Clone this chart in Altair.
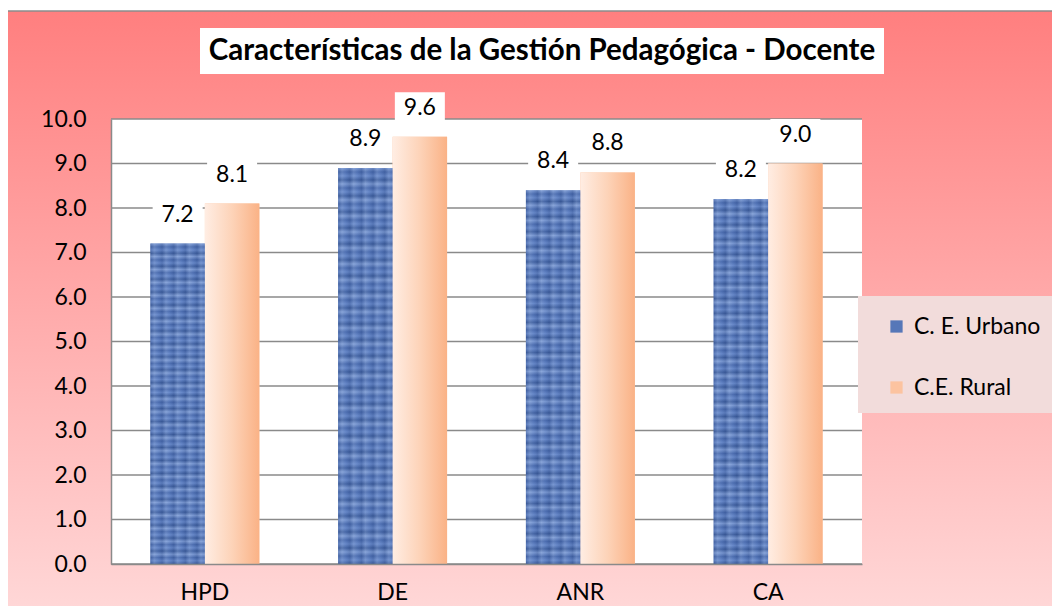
import altair as alt
import pandas as pd

categories = ['HPD', 'DE', 'ANR', 'CA']
series_names = ['C. E. Urbano', 'C.E. Rural']
urbano = [7.2, 8.9, 8.4, 8.2]
rural = [8.1, 9.6, 8.8, 9.0]
y_ticks = [0, 1, 2, 3, 4, 5, 6, 7, 8, 9, 10]
title_text = 'Características de la Gestión Pedagógica - Docente'

rows = []
for c, u, r in zip(categories, urbano, rural):
    rows.append({'cat': c, 'series': series_names[0], 'value': u, 'label': f'{u:.1f}'})
    rows.append({'cat': c, 'series': series_names[1], 'value': r, 'label': f'{r:.1f}'})
df = pd.DataFrame(rows)
one = pd.DataFrame({'k': [0]})
ticks_df = pd.DataFrame({'value': y_ticks})
title_df = pd.DataFrame({'title': [title_text]})

W, H = 751, 445
FONT = 'Lato'
GRAY = '#8a8a8a'

y_scale = alt.Scale(domain=[0, 10], nice=False, zero=True)
y_axis = alt.Axis(title=None, values=y_ticks, format='.1f', labelFontSize=23,
                  labelFont=FONT, labelColor='black', ticks=False, labelPadding=25,
                  domainColor=GRAY, domainWidth=1.5, grid=False, zindex=1)
x_enc = alt.X('cat:N', sort=categories,
              scale=alt.Scale(paddingInner=0.42, paddingOuter=0.21),
              axis=alt.Axis(title=None, labelFontSize=23, labelFont=FONT, labelColor='black',
                            ticks=False, labelPadding=17, domainColor=GRAY, domainWidth=1.5,
                            labelAngle=0, zindex=1, grid=False))
xo_enc = alt.XOffset('series:N', sort=series_names, scale=alt.Scale(paddingInner=0, paddingOuter=0))


def yq(field='value'):
    return alt.Y(f'{field}:Q', scale=y_scale, axis=y_axis)


def grad(colors, vertical=False):
    n = len(colors) - 1
    stops = [alt.GradientStop(color=c, offset=i / n) for i, c in enumerate(colors)]
    if vertical:
        return alt.Gradient(gradient='linear', stops=stops, x1=0, x2=0, y1=0, y2=1)
    return alt.Gradient(gradient='linear', stops=stops, x1=0, x2=1, y1=0, y2=0)


bg = alt.Chart(one).mark_rect(
    fill=grad(['#FF7F7F', '#FFDADA'], vertical=True), stroke='#8c8c8c', strokeWidth=1.5
).encode(x=alt.value(-106), x2=alt.value(960), y=alt.value(-108), y2=alt.value(510))

plotbg = alt.Chart(one).mark_rect(fill='white').encode(
    x=alt.value(0), x2=alt.value(W), y=alt.value(0), y2=alt.value(H))

grid = alt.Chart(ticks_df).mark_rule(color=GRAY, strokeWidth=1.5).encode(
    y=yq(), x=alt.value(0), x2=alt.value(W))

titlebox = alt.Chart(one).mark_rect(fill='white').encode(
    x=alt.value(89), x2=alt.value(773), y=alt.value(-91), y2=alt.value(-45))
titletext = alt.Chart(title_df).mark_text(
    fontSize=29.5, fontWeight='bold', font=FONT, color='black', baseline='middle', align='center'
).encode(text='title:N', x=alt.value(431), y=alt.value(-68))

legendbox = alt.Chart(one).mark_rect(fill='#F2DCDB').encode(
    x=alt.value(747), x2=alt.value(960), y=alt.value(177), y2=alt.value(294))

bars_base = alt.Chart(df).mark_bar().encode(
    x=x_enc, xOffset=xo_enc, y=yq(),
    color=alt.Color('series:N', sort=series_names,
                    scale=alt.Scale(domain=series_names, range=['#5677B8', '#FCC3A0']),
                    legend=alt.Legend(title=None, orient='none', legendX=774, legendY=196,
                                      symbolType='square', symbolSize=150, labelFontSize=23,
                                      labelFont=FONT, labelColor='black', rowPadding=37,
                                      labelOffset=6, symbolStrokeWidth=0, zindex=1)))

rural_grad = alt.Chart(df).transform_filter(alt.datum.series == series_names[1]).mark_bar(
    fill=grad(['#FFEDE3', '#FDD3B8', '#FAB286'])
).encode(x=x_enc, xOffset=xo_enc, y=yq())

v_cols = []
for i in range(5):
    v_cols += ['#2E4C8C', '#9AB4E4', '#5E80C4']
h_cols = []
for i in range(25):
    h_cols += ['#A7C0EC', '#3A5A9C', '#7B9BD8', '#27457F']

urb_v = alt.Chart(df).transform_filter(alt.datum.series == series_names[0]).mark_bar(
    fill=grad(v_cols), opacity=0.5
).encode(x=x_enc, xOffset=xo_enc, y=yq())
urb_h = alt.Chart(df).transform_filter(alt.datum.series == series_names[0]).mark_bar(
    fill=grad(h_cols, vertical=True), opacity=0.4
).encode(x=x_enc, xOffset=xo_enc, y=yq())

lblbox = alt.Chart(df).transform_calculate(
    lo='datum.value + 0.25', hi='datum.value + 1.0'
).mark_bar(fill='white', size=50).encode(
    x=x_enc, xOffset=xo_enc, y=yq('lo'), y2='hi:Q')

lbltext = alt.Chart(df).mark_text(
    fontSize=23, font=FONT, color='black', dy=-29, baseline='middle'
).encode(x=x_enc, xOffset=xo_enc, y=yq(), text='label:N')

chart = alt.layer(
    bg, plotbg, grid, titlebox, titletext, legendbox,
    bars_base, rural_grad, urb_v, urb_h, lblbox, lbltext
).properties(
    width=W, height=H,
    padding={'left': 103, 'top': 111, 'right': 190, 'bottom': 42},
    autosize=alt.AutoSizeParams(type='none')
).configure_view(stroke=None)

chart.save('out.html', embed_options={'renderer': 'svg', 'actions': False})
